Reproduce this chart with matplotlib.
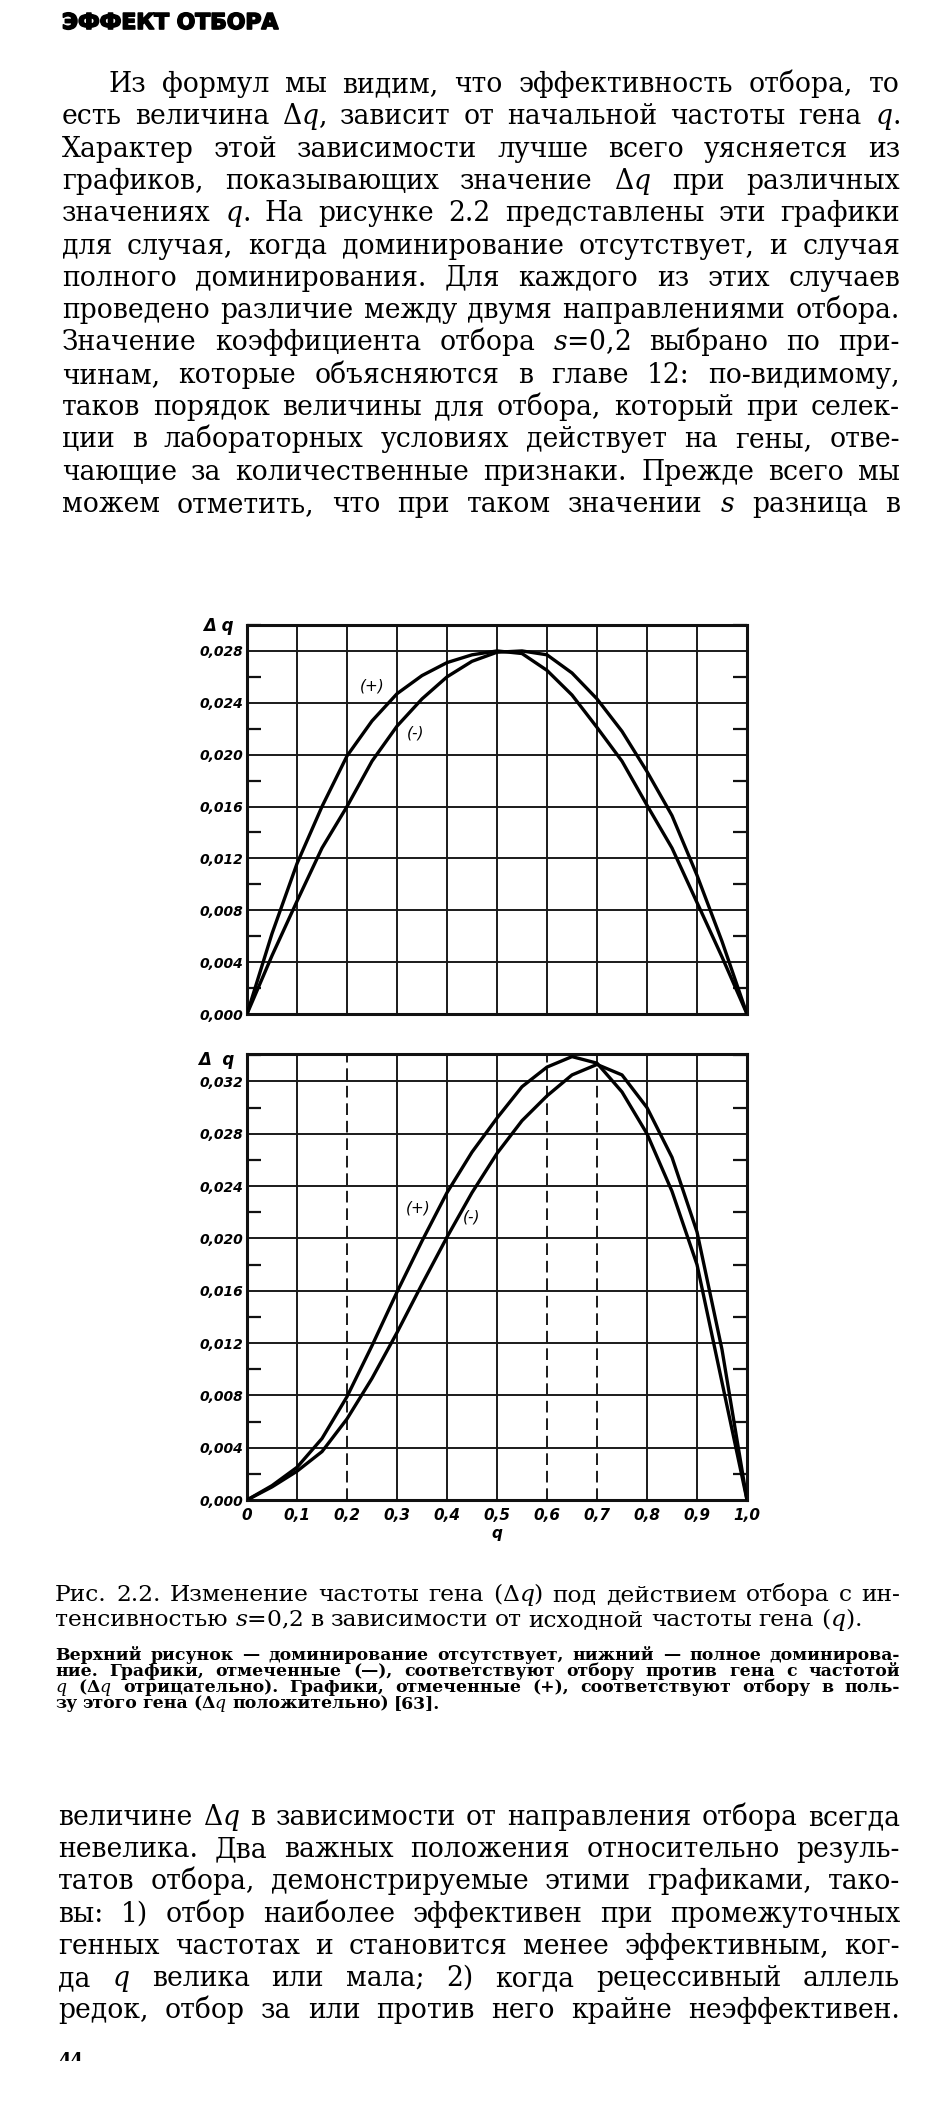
import matplotlib
matplotlib.use("Agg")
import matplotlib.pyplot as plt
import matplotlib.patheffects as pe
from matplotlib.transforms import Bbox

W, H = 952, 2104
plt.rcParams["mathtext.fontset"] = "dejavuserif"
fig = plt.figure(figsize=(W / 100, H / 100), dpi=100)
fig.patch.set_facecolor("white")
R = fig.canvas.get_renderer()

# ── data ─────────────────────────────────────────────────────
q_pts = [0.0, 0.05, 0.1, 0.15, 0.2, 0.25, 0.3, 0.35, 0.4, 0.45, 0.5,
         0.55, 0.6, 0.65, 0.7, 0.75, 0.8, 0.85, 0.9, 0.95, 1.0]

# upper panel: no dominance
top_plus = [0.0, 0.0062, 0.0116, 0.0160, 0.0199, 0.0226, 0.0247, 0.0261, 0.0271,
            0.0277, 0.0280, 0.0278, 0.0265, 0.0246, 0.0221, 0.0195, 0.0161,
            0.0128, 0.0086, 0.0044, 0.0]
top_minus = [0.0, 0.0045, 0.0087, 0.0128, 0.0160, 0.0195, 0.0222, 0.0243, 0.0260,
             0.0272, 0.0279, 0.0280, 0.0277, 0.0263, 0.0243, 0.0218, 0.0187,
             0.0153, 0.0107, 0.0056, 0.0]

# lower panel: full dominance
bot_plus = [0.0, 0.0011, 0.0025, 0.0047, 0.0079, 0.0118, 0.0159, 0.0198, 0.0235,
            0.0266, 0.0292, 0.0316, 0.0331, 0.0339, 0.0334, 0.0312, 0.0280,
            0.0236, 0.0180, 0.0090, 0.0]
bot_minus = [0.0, 0.0010, 0.0022, 0.0037, 0.0062, 0.0093, 0.0128, 0.0165, 0.0201,
             0.0235, 0.0265, 0.0290, 0.0309, 0.0325, 0.0333, 0.0325, 0.0300,
             0.0262, 0.0205, 0.0115, 0.0]

top_yticks = [0.000, 0.004, 0.008, 0.012, 0.016, 0.020, 0.024, 0.028]
bot_yticks = [0.000, 0.004, 0.008, 0.012, 0.016, 0.020, 0.024, 0.028, 0.032]
x_ticks = [0.0, 0.1, 0.2, 0.3, 0.4, 0.5, 0.6, 0.7, 0.8, 0.9, 1.0]
x_labels = ["0", "0,1", "0,2", "0,3", "0,4", "0,5", "0,6", "0,7", "0,8", "0,9", "1,0"]

HEADING = "ЭФФЕКТ ОТБОРА"
PARA1 = [
    "Из формул мы видим, что эффективность отбора, то",
    "есть величина Δ$q$, зависит от начальной частоты гена $q$.",
    "Характер этой зависимости лучше всего уясняется из",
    "графиков, показывающих значение Δ$q$ при различных",
    "значениях $q$. На рисунке 2.2 представлены эти графики",
    "для случая, когда доминирование отсутствует, и случая",
    "полного доминирования. Для каждого из этих случаев",
    "проведено различие между двумя направлениями отбора.",
    "Значение коэффициента отбора $s$=0,2 выбрано по при-",
    "чинам, которые объясняются в главе 12: по-видимому,",
    "таков порядок величины для отбора, который при селек-",
    "ции в лабораторных условиях действует на гены, отве-",
    "чающие за количественные признаки. Прежде всего мы",
    "можем отметить, что при таком значении $s$ разница в",
]
CAPTION = [
    "Рис. 2.2. Изменение частоты гена (Δ$q$) под действием отбора с ин-",
    "тенсивностью $s$=0,2 в зависимости от исходной частоты гена ($q$).",
]
NOTE = [
    "Верхний рисунок — доминирование отсутствует, нижний — полное доминирова-",
    "ние. Графики, отмеченные (—), соответствуют отбору против гена с частотой",
    "$q$ (Δ$q$ отрицательно). Графики, отмеченные (+), соответствуют отбору в поль-",
    "зу этого гена (Δ$q$ положительно) [63].",
]
PARA2 = [
    "величине Δ$q$ в зависимости от направления отбора всегда",
    "невелика. Два важных положения относительно резуль-",
    "татов отбора, демонстрируемые этими графиками, тако-",
    "вы: 1) отбор наиболее эффективен при промежуточных",
    "генных частотах и становится менее эффективным, ког-",
    "да $q$ велика или мала; 2) когда рецессивный аллель",
    "редок, отбор за или против него крайне неэффективен.",
]

SERIF = "DejaVu Serif"


def width(text, size, **kw):
    t = fig.text(0, 0, text, fontsize=size, **kw)
    w = t.get_window_extent(R).width
    t.remove()
    return w


def fit_size(lines, avail, base=20, **kw):
    return min(base * avail / width(l, base, **kw) for l in lines)


def put_line(text, x0, x1, y, size, justify=True, **kw):
    # one word per Text, spread so the line is justified between x0 and x1
    words = text.split(" ")
    arts = [fig.text(0, 1 - y / H, w, fontsize=size, va="baseline", **kw) for w in words]
    ws = [a.get_window_extent(R).width for a in arts]
    if justify and len(words) > 1:
        gap = (x1 - x0 - sum(ws)) / (len(words) - 1)
    else:
        gap = 0.3 * size * 100 / 72
    x = x0
    for a, w in zip(arts, ws):
        a.set_x(x / W)
        x += w + gap


# ── heading ──────────────────────────────────────────────────
hs = 13 * 215 / width(HEADING, 13, family="DejaVu Sans", weight="bold")
fig.text(62 / W, 1 - 29 / H, HEADING, fontsize=hs, family="DejaVu Sans",
         weight="bold", va="baseline",
         path_effects=[pe.withStroke(linewidth=1.2, foreground="black")])

# ── first paragraph ──────────────────────────────────────────
ps = fit_size(PARA1, 838 * 0.985, family=SERIF)
for i, line in enumerate(PARA1):
    x0 = 108 if i == 0 else 62
    put_line(line, x0, 900, 92 + 32.3 * i, ps, family=SERIF)


# ── charts ───────────────────────────────────────────────────
def px_axes(l, t, r, b):
    return fig.add_axes([l / W, 1 - b / H, (r - l) / W, (b - t) / H])


def style_axes(ax, ymax, yticks, dashed=()):
    ax.set_xlim(0, 1)
    ax.set_ylim(0, ymax)
    ax.set_xticks(x_ticks)
    ax.set_yticks(yticks)
    ax.set_yticks([v + 0.002 for v in yticks], minor=True)
    ax.set_yticklabels([f"{v:.3f}".replace(".", ",") for v in yticks],
                       fontstyle="italic", fontweight="bold", fontsize=10,
                       family="DejaVu Sans")
    ax.tick_params(which="major", length=0, pad=3)
    ax.tick_params(which="minor", direction="in", length=10, width=1.6,
                   left=True, right=True, color="#111")
    for v in x_ticks[1:-1]:
        ax.axvline(v, color="#1a1a1a", lw=1.4,
                   ls=(0, (6, 3)) if v in dashed else "-", zorder=1)
    for v in yticks[1:]:
        ax.axhline(v, color="#1a1a1a", lw=1.4, zorder=1)
    for s in ax.spines.values():
        s.set_linewidth(2.2)
        s.set_color("#111")


ax1 = px_axes(247, 625, 747, 1014)
style_axes(ax1, 0.030, top_yticks)
ax1.set_xticklabels([])
ax1.plot(q_pts, top_plus, color="black", lw=2.4, zorder=3)
ax1.plot(q_pts, top_minus, color="black", lw=2.4, zorder=3)
ax1.text(0.25, 0.0253, "(+)", fontstyle="italic", fontsize=11, ha="center", va="center")
ax1.text(0.337, 0.0217, "(-)", fontstyle="italic", fontsize=11, ha="center", va="center")
fig.text(203 / W, 1 - 626 / H, "Δ q", fontsize=12, fontstyle="italic",
         fontweight="bold", va="center")

ax2 = px_axes(247, 1054, 747, 1500)
style_axes(ax2, 0.0341, bot_yticks, dashed=(0.2, 0.6, 0.7))
ax2.set_xticklabels(x_labels, fontstyle="italic", fontweight="bold", fontsize=11,
                    family="DejaVu Sans")
ax2.tick_params(axis="x", pad=6)
ax2.set_xlabel("q", fontstyle="italic", fontweight="bold", fontsize=11, labelpad=2)
ax2.plot(q_pts, bot_plus, color="black", lw=2.4, zorder=3)
ax2.plot(q_pts, bot_minus, color="black", lw=2.4, zorder=3)
ax2.text(0.343, 0.0223, "(+)", fontstyle="italic", fontsize=11, ha="center", va="center")
ax2.text(0.45, 0.0216, "(-)", fontstyle="italic", fontsize=11, ha="center", va="center")
fig.text(198 / W, 1 - 1060 / H, "Δ  q", fontsize=12, fontstyle="italic",
         fontweight="bold", va="center")

# ── caption ──────────────────────────────────────────────────
cs = fit_size(CAPTION[:1], 845 * 0.98, family=SERIF)
put_line(CAPTION[0], 55, 900, 1601, cs, family=SERIF)
put_line(CAPTION[1], 55, 900, 1626, cs, justify=False, family=SERIF)

ns = fit_size(NOTE[:3], 845 * 0.97, base=9, family=SERIF, weight="bold")
for i, line in enumerate(NOTE):
    put_line(line, 55, 900, 1660 + 16 * i, ns, justify=i < 3,
             family=SERIF, weight="bold")

# ── second paragraph ─────────────────────────────────────────
for i, line in enumerate(PARA2):
    put_line(line, 58, 900, 1825 + 32.2 * i, ps, family=SERIF)

# page number, cut off by the scan edge
pn = fig.text(58 / W, 1 - 2066 / H, "44", fontsize=13, weight="bold",
              family=SERIF, va="baseline")
pn.set_clip_box(Bbox.from_extents(0, H - 2061, W, H))

fig.savefig("out.png", dpi=100, facecolor="white")
